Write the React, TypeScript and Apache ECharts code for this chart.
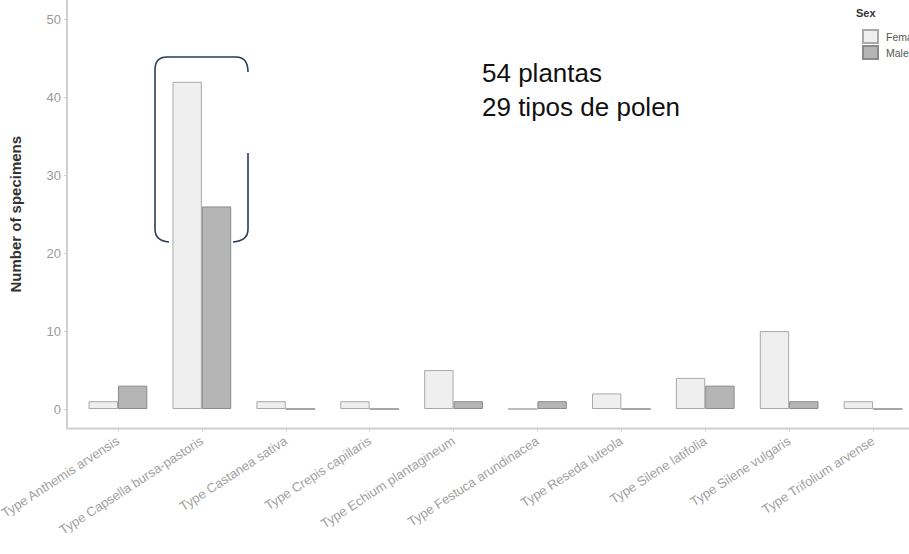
import React, { useEffect, useRef } from "react";
import * as echarts from "echarts";

const categories = [
  "Type Anthemis arvensis",
  "Type Capsella bursa-pastoris",
  "Type Castanea sativa",
  "Type Crepis capillaris",
  "Type Echium plantagineum",
  "Type Festuca arundinacea",
  "Type Reseda luteola",
  "Type Silene latifolia",
  "Type Silene vulgaris",
  "Type Trifolium arvense",
];
const femaleValues = [1, 42, 1, 1, 5, 0, 2, 4, 10, 1];
const maleValues = [3, 26, 0, 0, 1, 1, 0, 3, 1, 0];
const yTickValues = [0, 10, 20, 30, 40, 50];
const annotationLines = ["54 plantas", "29 tipos de polen"];

const FONT = "Liberation Sans, Arial, sans-serif";
const bracketPath =
  "M248,72 Q248,57 236,57 L167,57 Q155,57 155,70 L155,229 Q155,241 169,242 M233,242 Q248,241 248,229 L248,153";

export default function App() {
  const ref = useRef<HTMLDivElement>(null);
  useEffect(() => {
    if (!ref.current) return;
    try {
      echarts.graphic.registerShape(
        "bracket",
        echarts.graphic.extendPath(bracketPath, {}) as any
      );
    } catch (e) {}
    const chart = echarts.init(ref.current, null, { renderer: "svg" });
    chart.setOption({
      animation: false,
      backgroundColor: "#ffffff",
      textStyle: { fontFamily: FONT },
      grid: {
        left: 76,
        right: -6,
        top: 0,
        bottom: 125.5,
        containLabel: false,
        outerBoundsMode: "none",
      },
      legend: {
        orient: "vertical",
        left: 857,
        top: 24,
        itemWidth: 15,
        itemHeight: 13,
        itemGap: 1,
        icon: "rect",
        textStyle: {
          fontSize: 10.5,
          color: "#555",
          fontFamily: FONT,
          padding: [0, 0, 0, 3],
        },
        data: ["Female", "Male"],
      },
      xAxis: {
        type: "category",
        data: categories,
        axisLine: { show: false, onZero: false },
        axisTick: {
          show: true,
          alignWithLabel: true,
          length: 3,
          lineStyle: { color: "#d0d0d0" },
        },
        axisLabel: {
          rotate: 33,
          fontSize: 13,
          color: "#a0a0a0",
          margin: 11,
          interval: 0,
          fontFamily: FONT,
        },
        splitLine: { show: false },
      },
      yAxis: {
        type: "value",
        min: -2.5,
        max: 52.5,
        offset: 9,
        name: "Number of specimens",
        nameLocation: "middle",
        nameGap: 44,
        nameTextStyle: {
          fontSize: 15,
          fontWeight: "bold",
          color: "#333",
          fontFamily: FONT,
        },
        axisLine: { show: true, lineStyle: { color: "#d0d0d0", width: 2 } },
        axisTick: {
          show: true,
          length: 3,
          customValues: yTickValues,
          lineStyle: { color: "#d0d0d0" },
        },
        axisLabel: {
          customValues: yTickValues,
          fontSize: 13,
          color: "#9a9a9a",
          margin: 6,
          fontFamily: FONT,
        },
        splitLine: { show: false },
      },
      series: [
        {
          name: "Female",
          type: "bar",
          data: femaleValues,
          barGap: "0%",
          barCategoryGap: "30%",
          itemStyle: { color: "#efefef", borderColor: "#a8a8a8", borderWidth: 1 },
        },
        {
          name: "Male",
          type: "bar",
          data: maleValues,
          barGap: "0%",
          barCategoryGap: "30%",
          itemStyle: { color: "#b5b5b5", borderColor: "#8a8a8a", borderWidth: 1 },
        },
      ],
      graphic: [
        {
          type: "line",
          shape: { x1: 67, y1: 428.5, x2: 909, y2: 428.5 },
          style: { stroke: "#d0d0d0", lineWidth: 2 },
          z: 10,
        },
        {
          type: "text",
          x: 856,
          y: 7,
          style: {
            text: "Sex",
            fontSize: 11,
            fontWeight: "bold",
            fill: "#333",
            fontFamily: FONT,
          },
        },
        {
          type: "text",
          x: 482,
          y: 56,
          style: {
            text: annotationLines.join("\n"),
            fontSize: 26,
            lineHeight: 34,
            fill: "#111",
            fontFamily: FONT,
          },
        },
        {
          type: "bracket",
          x: 0,
          y: 0,
          style: { stroke: "#2b3d55", lineWidth: 1.6, fill: "none" },
          z: 20,
        },
      ],
    });
    return () => chart.dispose();
  }, []);
  return (
    <div
      ref={ref}
      style={{ position: "absolute", left: 0, top: 0, width: 909, height: 554 }}
    />
  );
}
